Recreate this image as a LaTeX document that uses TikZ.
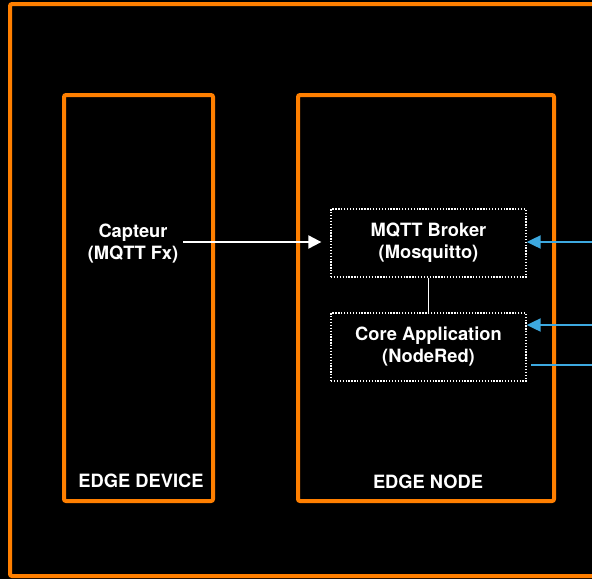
\documentclass[tikz,border=0pt]{standalone}
\usepackage{fontspec}
\setmainfont{TeX Gyre Heros}
\usetikzlibrary{arrows.meta}
\definecolor{borange}{HTML}{FF7F00}
\definecolor{bblue}{HTML}{3DA9E0}
\begin{document}
\begin{tikzpicture}[x=1pt,y=-1pt,
  frame/.style={draw=borange,line width=4pt,rounded corners=2pt},
  inner/.style={draw=white,line width=1.3pt,dash pattern=on 1.3pt off 1.6pt,minimum width=195pt,minimum height=68pt,align=center,text=white,font=\fontsize{18.3}{22}\selectfont\bfseries},
  lbl/.style={text=white,font=\fontsize{18.3}{22}\selectfont\bfseries,align=center,inner sep=2pt},
  warrow/.style={draw=white,line width=2pt,-{Triangle[length=13pt,width=13pt]}},
  barrow/.style={draw=bblue,line width=2pt,-{Triangle[length=14pt,width=13pt]}},
  bline/.style={draw=bblue,line width=2pt}]
\useasboundingbox (0,0) rectangle (592,579);
\clip (0,0) rectangle (592,579);
\fill[black] (0,0) rectangle (592,579);
\draw[frame] (10,4) rectangle (640,576);
\draw[frame] (64,95) rectangle (213,501);
\draw[frame] (298,95) rectangle (554,501);
\node[lbl] (devlbl) at (141,481) {EDGE DEVICE};
\node[lbl] (nodelbl) at (428,482) {EDGE NODE};
\node[lbl] (capteur) at (133,244) {Capteur\\(MQTT Fx)};
\node[inner] (broker) at (428.5,243) {MQTT Broker\\(Mosquitto)};
\node[inner] (core) at (428.5,347) {Core Application\\(NodeRed)};
\draw[white,line width=1.5pt] (broker.south) -- (core.north);
\draw[warrow,shorten >=9pt] (capteur.east) ++(3,-2) -- (broker.west |- 0,242);
\coordinate (in1) at (600,242);
\coordinate (in2) at (600,325);
\coordinate (out1) at (600,365);
\coordinate (outs) at (531,365);
\draw[barrow] (in1) -- (broker.east |- in1);
\draw[barrow] (in2) -- (core.east |- in2);
\draw[bline] (outs) -- (out1);
\end{tikzpicture}
\end{document}
